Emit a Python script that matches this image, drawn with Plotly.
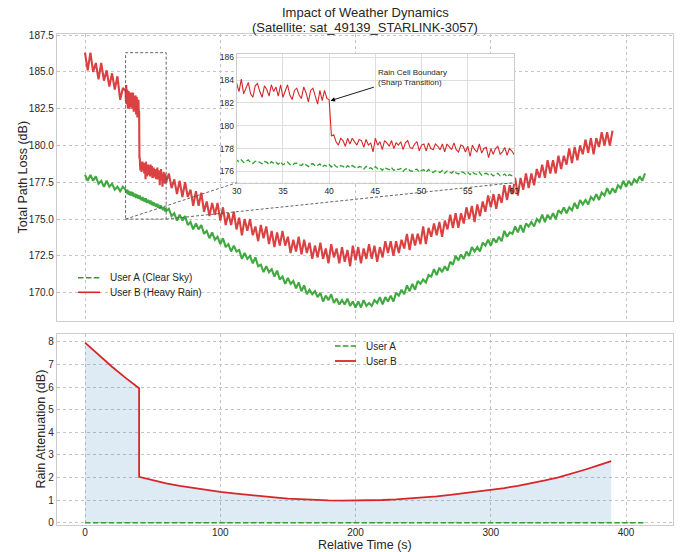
import numpy as np
import plotly.graph_objects as go

# ------------------------------------------------------------------ data
# sampling grid: 2 s steps, finer 0.25 s steps inside the zoomed window 30-60 s
time_a = np.concatenate([np.arange(0, 30, 2), np.arange(30, 60.001, 0.25), np.arange(62, 414.1, 2)])
time_b = np.concatenate([np.arange(0, 30, 2), np.arange(30, 60.001, 0.25), np.arange(62, 390.1, 2)])

path_loss_a = [
    178.0, 177.6, 178.0, 177.6, 177.9, 177.4, 177.6, 177.2, 177.6, 177.2, 177.4, 177.0, 177.2, 176.9, 177.2,
    176.98, 176.84, 177.00, 176.77, 176.89, 177.00, 176.76, 176.69, 176.88, 176.91,
    176.77, 176.66, 176.86, 176.80, 176.59, 176.85, 176.71, 176.79, 176.62, 176.83,
    176.58, 176.70, 176.81, 176.60, 176.52, 176.69, 176.72, 176.58, 176.51, 176.72,
    176.60, 176.42, 176.64, 176.66, 176.47, 176.51, 176.65, 176.39, 176.54, 176.44,
    176.58, 176.38, 176.62, 176.42, 176.33, 176.50, 176.44, 176.27, 176.49, 176.33,
    176.50, 176.35, 176.25, 176.42, 176.38, 176.19, 176.42, 176.23, 176.32, 176.16,
    176.41, 176.22, 176.31, 176.09, 176.32, 176.23, 176.13, 176.32, 176.08, 176.23,
    176.15, 176.25, 176.01, 176.20, 176.27, 176.05, 176.01, 176.13, 176.19, 175.93,
    176.09, 176.13, 175.92, 176.16, 175.97, 175.90, 176.05, 176.00, 175.90, 176.07,
    175.82, 176.03, 175.94, 175.84, 176.05, 175.85, 175.77, 175.97, 175.91, 175.76,
    175.91, 175.71, 175.94, 175.78, 175.73, 175.93, 175.67, 175.79, 175.83, 175.69,
    175.79, 175.60, 175.74, 175.82, 175.60, 175.64, 175.76, 175.51, 175.71, 175.65,
    175.53,
    175.7, 175.2, 175.4, 174.9, 175.3, 174.9, 175.2, 174.6, 174.8, 174.3,
    174.7, 174.3, 174.6, 174.0, 174.2, 173.7, 174.1, 173.6, 173.8, 173.3,
    173.7, 173.1, 173.3, 172.8, 173.2, 172.8, 172.9, 172.3, 172.7, 172.3,
    172.5, 172.0, 172.4, 171.8, 171.9, 171.4, 171.8, 171.4, 171.6, 171.1,
    171.5, 170.9, 171.1, 170.6, 171.0, 170.6, 170.8, 170.3, 170.7, 170.1,
    170.5, 169.9, 170.2, 169.9, 170.1, 169.7, 170.0, 169.4, 169.8, 169.5,
    169.9, 169.3, 169.6, 169.2, 169.5, 169.2, 169.6, 169.1, 169.4, 169.0,
    169.4, 169.0, 169.5, 169.1, 169.3, 169.1, 169.5, 169.3, 169.7, 169.2,
    169.7, 169.4, 169.8, 169.4, 170.0, 169.8, 170.2, 169.9, 170.5, 170.1,
    170.6, 170.2, 170.8, 170.6, 170.9, 170.7, 171.2, 171.1, 171.6, 171.2,
    171.7, 171.4, 171.8, 171.5, 172.1, 171.9, 172.5, 172.2, 172.6, 172.3,
    172.8, 172.5, 173.1, 172.8, 173.1, 172.8, 173.4, 173.2, 173.6, 173.2,
    173.7, 173.4, 173.8, 173.5, 174.2, 173.8, 174.1, 174.0, 174.5, 174.1,
    174.6, 174.1, 174.7, 174.5, 174.8, 174.5, 175.0, 174.8, 175.3, 174.8,
    175.3, 175.0, 175.4, 175.0, 175.6, 175.4, 175.8, 175.4, 175.8, 175.6,
    176.1, 175.7, 176.3, 176.0, 176.3, 176.0, 176.5, 176.3, 176.7, 176.3,
    176.8, 176.6, 177.1, 176.7, 177.1, 176.8, 177.3, 177.1, 177.6, 177.2,
    177.6, 177.3, 177.7, 177.5, 177.9, 177.6, 178.1,
]

path_loss_b = [
    186.3, 185.1, 186.3, 185.0, 185.6, 184.5, 185.6, 184.4, 185.1, 184.0, 184.9, 183.8, 184.7, 183.1, 183.9,
    183.7, 183.0, 184.1, 182.8, 183.4, 183.8, 182.8, 182.5, 183.5, 183.7,
    183.0, 182.5, 183.5, 183.2, 182.6, 183.6, 183.0, 183.4, 182.6, 183.6,
    182.5, 183.1, 183.6, 182.7, 182.3, 183.1, 183.3, 182.7, 182.4, 183.4,
    182.9, 182.1, 183.1, 183.3, 182.5, 181.9, 183.1, 182.2, 183.1, 182.4,
    182.3,
    179.1, 179.2, 178.6, 178.3, 178.9, 178.7, 178.2, 178.9, 178.4,
    178.9, 178.6, 178.3, 178.8, 178.7, 178.1, 178.8, 178.3, 178.5, 177.7,
    178.9, 178.3, 178.6, 177.9, 178.7, 178.5, 178.2, 178.7, 178.0, 178.5,
    178.3, 178.6, 177.9, 178.5, 178.7, 178.1, 178.0, 178.4, 178.6, 177.8,
    178.3, 178.4, 177.8, 178.5, 178.0, 177.9, 178.4, 178.2, 177.9, 178.4,
    177.7, 178.4, 178.1, 177.9, 178.5, 177.9, 177.7, 178.3, 178.2, 177.7,
    178.2, 177.3, 178.3, 177.9, 177.7, 178.4, 177.6, 178.0, 178.1, 177.2,
    178.0, 177.5, 178.0, 178.2, 177.5, 177.7, 178.1, 177.4, 178.0, 177.8, 177.5,
    178.1, 177.1, 177.7, 176.7, 177.6, 176.5, 177.5, 176.5, 177.0, 175.9,
    176.9, 175.9, 176.8, 175.5, 176.2, 175.2, 176.1, 175.3, 176.1, 174.9,
    175.8, 174.6, 175.4, 174.6, 175.5, 174.3, 175.1, 173.9, 175.0, 174.2,
    175.0, 173.9, 174.5, 173.5, 174.6, 173.7, 174.5, 173.3, 174.2, 173.1,
    174.1, 173.2, 174.2, 173.2, 173.8, 172.7, 173.6, 172.8, 173.8, 172.6,
    173.6, 172.7, 173.4, 172.3, 173.2, 172.4, 173.4, 172.3, 173.0, 172.0,
    173.3, 172.4, 173.0, 172.0, 173.1, 172.1, 172.9, 171.8, 173.2, 172.2,
    173.1, 172.0, 173.0, 172.3, 173.3, 172.3, 173.2, 172.1, 173.1, 172.4,
    173.5, 172.7, 173.5, 172.5, 173.5, 172.7, 173.6, 173.0, 174.0, 172.9,
    174.0, 173.2, 174.0, 173.3, 174.5, 173.3, 174.4, 173.8, 174.7, 173.9,
    174.8, 173.8, 174.9, 174.3, 175.3, 174.4, 175.4, 174.4, 175.4, 174.7,
    175.8, 175.0, 175.9, 174.8, 176.0, 175.2, 176.2, 175.5, 176.6, 175.8,
    176.7, 175.7, 176.7, 176.1, 177.3, 176.3, 177.3, 176.7, 177.8, 176.6,
    177.8, 177.0, 178.1, 177.1, 178.1, 177.3, 178.4, 177.8, 178.7, 177.8,
    179.0, 178.1, 179.0, 178.1, 179.3, 178.4, 179.3, 178.7, 179.8, 178.8,
    179.9, 179.0, 180.0, 179.4, 180.4, 179.5, 180.5, 179.4, 180.5, 179.9,
    180.9, 180.0, 180.9, 180.0, 181.0,
]

atten_time_b = [0, 10, 20, 30, 40, 40, 50, 60, 70, 80, 90, 100, 110, 120, 130, 140, 150, 160, 170, 180,
                190, 200, 210, 220, 230, 240, 250, 260, 270, 280, 290, 300, 310, 320, 330, 340, 350,
                360, 370, 380, 389]
atten_b = [7.97, 7.42, 6.90, 6.41, 5.95, 2.03, 1.87, 1.74, 1.63, 1.535, 1.45, 1.37, 1.30, 1.23, 1.17,
           1.12, 1.07, 1.035, 1.005, 0.99, 0.98, 0.98, 0.99, 1.005, 1.035, 1.07, 1.12, 1.17, 1.23,
           1.30, 1.37, 1.45, 1.535, 1.63, 1.74, 1.87, 2.01, 2.17, 2.355, 2.55, 2.73]
atten_time_a = [0, 414]
atten_a = [0.0, 0.0]

x_ticks = [0, 100, 200, 300, 400]
top_y_ticks = [170.0, 172.5, 175.0, 177.5, 180.0, 182.5, 185.0, 187.5]
bottom_y_ticks = [0, 1, 2, 3, 4, 5, 6, 7, 8]
inset_x_ticks = [30, 35, 40, 45, 50, 55, 60]
inset_y_ticks = [176, 178, 180, 182, 184, 186]

title_line1 = "Impact of Weather Dynamics"
title_line2 = "(Satellite: sat_49139_STARLINK-3057)"

# ------------------------------------------------------------------ layout geometry
W, H = 683, 552
ML, MR, MT, MB = 57, 10, 34, 27
PW, PH = W - ML - MR, H - MT - MB


def pxx(px):
    return (px - ML) / PW


def pxy(py):
    return (H - MB - py) / PH


XR = [-20.7, 434.7]
YR_TOP = [168.08, 187.57]
YR_BOT = [-0.1, 8.35]
XR_IN = [30, 60]
YR_IN = [175.0, 186.3]

top_dom = [pxy(321), 1.0]
bot_dom = [0.0, pxy(334)]
in_x = [pxx(236.7), pxx(514)]
in_y = [pxy(182.7), pxy(54)]

GREEN = "#2ca02c"
RED = "#d62728"
FONT = "Liberation Sans, Arial, sans-serif"
TXT = "#262626"

fig = go.Figure()

# top panel
fig.add_trace(go.Scatter(x=time_a, y=path_loss_a, mode="lines", xaxis="x", yaxis="y",
                         line=dict(color=GREEN, width=2.1), opacity=0.9, showlegend=False))
fig.add_trace(go.Scatter(x=time_b, y=path_loss_b, mode="lines", xaxis="x", yaxis="y",
                         line=dict(color=RED, width=2.1), opacity=0.88, showlegend=False))
# inset
fig.add_trace(go.Scatter(x=time_a, y=path_loss_a, mode="lines", xaxis="x3", yaxis="y3",
                         line=dict(color=GREEN, width=1.3, dash="5px,2.4px"), showlegend=False))
fig.add_trace(go.Scatter(x=time_b, y=path_loss_b, mode="lines", xaxis="x3", yaxis="y3",
                         line=dict(color=RED, width=1.1), showlegend=False))
# bottom panel
fig.add_trace(go.Scatter(x=atten_time_b, y=atten_b, mode="lines", xaxis="x2", yaxis="y2",
                         fill="tozeroy", fillcolor="rgba(31,119,180,0.15)",
                         line=dict(color=RED, width=1.8), showlegend=False))
fig.add_trace(go.Scatter(x=atten_time_a, y=atten_a, mode="lines", xaxis="x2", yaxis="y2",
                         line=dict(color=GREEN, width=1.6, dash="5.5px,2.4px"), showlegend=False))

axis_common = dict(showline=True, linecolor="#cccccc", linewidth=1.2, mirror=True,
                   showgrid=True, gridcolor="#c4c4c4", griddash="dot", gridwidth=0.8,
                   zeroline=False, ticks="", automargin=False,
                   tickfont=dict(size=10, color=TXT, family=FONT))

fig.update_layout(
    width=W, height=H,
    margin=dict(l=ML, r=MR, t=MT, b=MB),
    paper_bgcolor="white", plot_bgcolor="white",
    font=dict(family=FONT, color=TXT),
    showlegend=False,
    xaxis=dict(axis_common, domain=[0, 1], anchor="y", range=XR, tickvals=x_ticks, showticklabels=False),
    yaxis=dict(axis_common, domain=top_dom, anchor="x", range=YR_TOP, tickvals=top_y_ticks, tickformat=".1f"),
    xaxis2=dict(axis_common, domain=[0, 1], anchor="y2", range=XR, tickvals=x_ticks, ticklabelstandoff=-2),
    yaxis2=dict(axis_common, domain=bot_dom, anchor="x2", range=YR_BOT, tickvals=bottom_y_ticks),
    xaxis3=dict(axis_common, domain=in_x, anchor="y3", range=XR_IN, tickvals=inset_x_ticks,
                griddash="solid", gridcolor="#dedede", gridwidth=1,
                tickfont=dict(size=8.5, color=TXT, family=FONT)),
    yaxis3=dict(axis_common, domain=in_y, anchor="x3", range=YR_IN, tickvals=inset_y_ticks,
                griddash="solid", gridcolor="#dedede", gridwidth=1,
                tickfont=dict(size=8.5, color=TXT, family=FONT)),
)


def main_paper(xd, yd):
    xp = (xd - XR[0]) / (XR[1] - XR[0])
    yp = top_dom[0] + (yd - YR_TOP[0]) / (YR_TOP[1] - YR_TOP[0]) * (top_dom[1] - top_dom[0])
    return xp, yp


shapes = []
box_line = dict(color="#555555", width=0.9, dash="3px,2px")
shapes.append(dict(type="rect", xref="x", yref="y", x0=XR_IN[0], x1=XR_IN[1], y0=YR_IN[0], y1=YR_IN[1],
                   line=box_line, fillcolor="rgba(0,0,0,0)"))
bl = main_paper(XR_IN[0], YR_IN[0])
br = main_paper(XR_IN[1], YR_IN[0])
shapes.append(dict(type="line", xref="paper", yref="paper", x0=bl[0], y0=bl[1], x1=in_x[0], y1=in_y[0], line=box_line))
shapes.append(dict(type="line", xref="paper", yref="paper", x0=br[0], y0=br[1], x1=in_x[1], y1=in_y[0], line=box_line))

# legend samples (drawn manually)
leg = [
    (78, 100, 277.7, GREEN, 1.6, "5.5px,2.4px", "User A (Clear Sky)"),
    (78, 100, 292.3, RED, 1.6, "solid", "User B (Heavy Rain)"),
    (335, 356, 346.0, GREEN, 1.6, "5.5px,2.4px", "User A"),
    (335, 356, 361.0, RED, 1.8, "solid", "User B"),
]
annotations = []
for x0, x1, yy, col, lw, dsh, label in leg:
    shapes.append(dict(type="line", xref="paper", yref="paper", x0=pxx(x0), x1=pxx(x1), y0=pxy(yy), y1=pxy(yy),
                       line=dict(color=col, width=lw, dash=dsh)))
    annotations.append(dict(xref="paper", yref="paper", x=pxx(x1 + 8), y=pxy(yy), text=label, showarrow=False,
                            xanchor="left", yanchor="middle", font=dict(size=10, color=TXT, family=FONT)))

# titles
annotations.append(dict(xref="paper", yref="paper", x=0.5, y=pxy(12.5), text=title_line1, showarrow=False,
                        xanchor="center", yanchor="middle", font=dict(size=13, color=TXT, family=FONT)))
annotations.append(dict(xref="paper", yref="paper", x=0.5, y=pxy(27), text=title_line2, showarrow=False,
                        xanchor="center", yanchor="middle", font=dict(size=13, color=TXT, family=FONT)))
annotations.append(dict(xref="paper", yref="paper", x=pxx(22), y=pxy(177.5), text="Total Path Loss (dB)",
                        showarrow=False, textangle=-90, xanchor="center", yanchor="middle",
                        font=dict(size=12.5, color=TXT, family=FONT)))
annotations.append(dict(xref="paper", yref="paper", x=pxx(40), y=pxy(429.5), text="Rain Attenuation (dB)",
                        showarrow=False, textangle=-90, xanchor="center", yanchor="middle",
                        font=dict(size=12.5, color=TXT, family=FONT)))
annotations.append(dict(xref="paper", yref="paper", x=pxx(365), y=pxy(545), text="Relative Time (s)",
                        showarrow=False, xanchor="center", yanchor="middle",
                        font=dict(size=12.5, color=TXT, family=FONT)))

# inset annotation
annotations.append(dict(xref="x3", yref="y3", x=45.05, y=184.24, text="Rain Cell Boundary<br>(Sharp Transition)",
                        showarrow=False, xanchor="left", yanchor="middle", align="left",
                        font=dict(size=8, color=TXT, family=FONT)))
annotations.append(dict(xref="x3", yref="y3", x=40.15, y=182.2, axref="x3", ayref="y3", ax=45.0, ay=183.43,
                        text="", showarrow=True, arrowhead=2, arrowsize=1, arrowwidth=0.9, arrowcolor="black"))

fig.update_layout(shapes=shapes, annotations=annotations)

fig.write_html("out.html", config={"displayModeBar": False},
               post_script="document.body.style.margin='0px';document.body.style.padding='0px';")
